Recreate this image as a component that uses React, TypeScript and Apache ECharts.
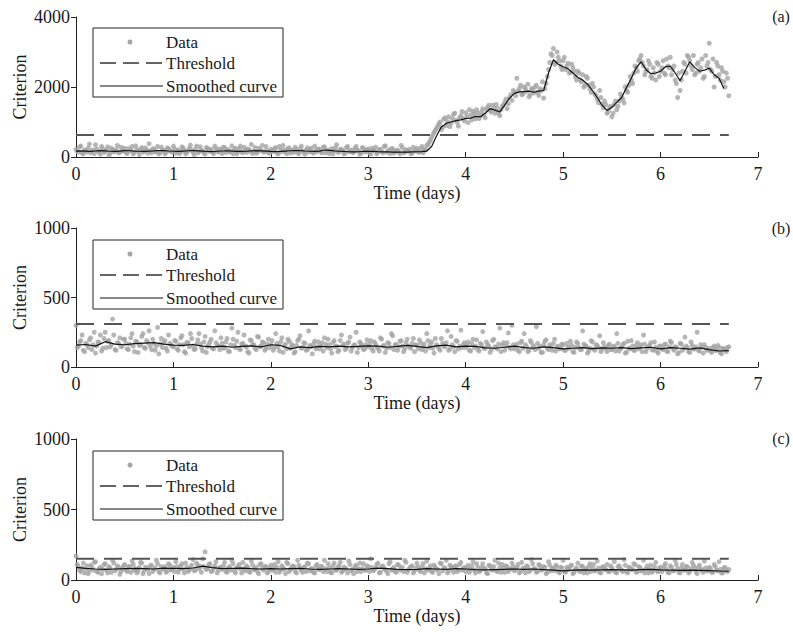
import React, { useEffect, useRef } from "react";
import * as echarts from "echarts";

// sampling interval of the raw data (days) and of the smoothed curves
const DATA_DT = 0.025;
const SMOOTH_DT_A = 0.05;
const SMOOTH_DT_BC = 0.1;

const panelLabels = ["(a)", "(b)", "(c)"];
const thresholds = [630, 310, 150];
const thresholdEnd = 6.7;
const yMax = [4000, 1000, 1000];
const yInterval = [2000, 500, 500];

// Panel (a) raw criterion values, samples at t = i*DT
const dataA = [
  220,140,310,90,180,260,120,200,350,150,80,240,170,290,110,210,160,330,130,190,
  250,100,180,300,140,220,70,270,160,200,380,120,230,150,90,280,190,130,240,170,
  310,110,200,150,260,90,180,340,140,220,120,290,170,80,250,200,130,310,160,230,
  100,270,180,140,320,200,90,240,150,280,130,210,360,170,110,250,190,140,300,120,
  220,160,270,90,200,330,150,240,110,190,280,130,230,170,80,260,200,140,310,150,
  210,120,290,170,100,240,180,350,140,220,90,270,160,200,130,300,180,110,250,150,
  230,80,190,280,140,210,120,320,170,100,240,150,200,90,260,130,180,220,110,170,
  250,140,300,210,330,
  420,560,700,820,950,780,1080,900,1150,970,1220,1050,880,1180,1100,1260,980,1200,1310,1090,
  1250,1170,1380,1120,1420,1330,1480,1250,1390,1180,1450,1560,1380,1700,1620,1850,2250,1950,1780,2000,
  1870,1720,1960,1830,2050,1760,1900,1680,2100,2500,2950,3100,2700,2850,2600,2750,2500,2680,2420,2550,
  2300,2450,2200,2350,2050,2250,1950,2100,1800,1650,1900,1500,1600,1250,1400,1150,1500,1350,1600,1700,
  1550,1900,2050,2200,2400,2550,2750,2900,2600,2450,2750,2300,2550,2200,2650,2450,2750,2350,2600,2850,
  2500,2200,1700,1900,2450,2650,2900,2750,2500,2350,2650,2450,2800,2300,2600,3250,2450,2000,2700,2350,
  2550,2150,2400,1750,
];
// Panel (a) raw values, samples at t = (i+0.5)*DT
const dataA2 = [
  160,290,110,200,140,370,180,100,230,170,300,130,190,60,250,150,210,120,280,170,
  130,240,190,90,320,160,210,140,260,110,180,230,150,300,120,200,90,260,170,140,
  230,160,100,290,180,130,250,200,70,310,150,190,120,270,160,220,100,240,140,190,
  280,130,210,170,90,250,150,310,120,190,230,160,100,270,140,200,330,150,180,110,
  170,240,120,300,150,200,100,260,180,130,220,90,310,160,200,140,250,110,190,230,
  150,280,120,200,170,90,260,140,220,180,110,300,160,130,240,190,80,270,150,200,
  120,250,170,90,220,160,300,130,200,240,110,180,150,330,120,210,170,90,280,190,
  140,230,120,200,
  350,480,640,760,880,1000,850,1120,1010,870,1100,1250,990,1120,1300,1030,1150,1350,1060,1240,
  1350,1100,1290,1200,1350,1480,1280,1400,1500,1250,1350,1480,1650,1520,1780,1900,1750,1880,2050,1800,
  1950,2080,1780,1920,2000,1850,1950,2150,1950,2300,2700,2900,2650,3000,2750,2500,2850,2600,2400,2650,
  2450,2200,2400,2150,2000,2300,2050,1850,2000,1750,1550,1700,1400,1500,1300,1450,1250,1600,1450,1800,
  1650,2000,1850,2300,2100,2600,2450,2800,2700,2350,2500,2650,2250,2400,2700,2300,2550,2400,2800,2550,
  2350,2600,2100,2400,2200,2700,2400,2850,2600,2900,2400,2700,2550,2250,2900,2700,2500,2800,2300,2600,
  2200,2450,2000,2250,
];

// Panel (a) smoothed curve
const smoothA = [
  170,175,168,160,172,180,176,165,158,170,
  182,178,170,165,160,168,175,185,180,172,
  165,160,170,178,182,175,168,160,155,165,
  172,178,170,162,158,165,175,180,176,168,
  160,155,162,170,178,185,180,172,165,160,
  168,200,190,175,165,158,150,145,150,158,
  165,160,152,148,145,142,140,138,140,145,
  150,155,170,
  300,600,860,960,1000,1040,1060,1100,1110,1160,
  1150,1250,1380,1340,1290,1480,1680,1820,1860,1870,
  1880,1850,1880,1900,2400,2780,2650,2580,2520,2400,
  2280,2200,2080,1900,1700,1480,1330,1420,1560,1700,
  1980,2250,2550,2720,2500,2380,2400,2450,2580,2600,
  2400,2180,2450,2720,2560,2450,2480,2540,2350,2250,
  1960,
];

// Panel (b) raw criterion values
const dataB = [
  300,150,190,120,170,140,210,160,100,180,230,135,250,185,145,345,125,175,210,150,
  200,130,165,240,110,180,155,220,140,190,260,125,170,150,95,205,175,135,230,160,
  145,185,120,210,160,100,175,240,150,130,195,165,115,220,145,180,135,260,155,125,
  170,140,205,110,280,155,185,130,165,230,145,100,190,160,125,215,150,175,135,200,
  160,120,240,145,180,105,165,200,135,150,110,190,225,140,170,125,155,95,185,145,
  130,175,210,140,160,100,190,150,120,230,165,135,180,115,155,250,140,170,125,160,
  145,190,115,165,135,210,150,105,175,140,225,160,120,185,150,130,200,145,170,110,
  155,195,125,165,240,140,180,100,160,135,205,150,175,120,220,145,190,130,265,160,
  140,180,115,200,150,125,170,255,135,160,105,190,145,130,280,155,120,175,140,300,
  130,165,110,185,240,145,120,175,150,290,135,105,160,195,125,145,170,115,150,135,
  160,120,145,185,110,140,170,125,260,150,100,135,180,120,155,225,130,145,110,165,
  125,150,240,115,140,170,105,135,190,120,155,130,160,230,110,145,175,120,140,100,
  150,125,165,110,185,135,145,95,170,120,215,140,105,155,130,250,115,145,160,120,
  135,105,150,120,140,95,130,110,145,
];
const dataB2 = [
  140,180,230,110,160,195,125,250,150,175,115,205,140,190,160,230,120,170,145,200,
  170,125,210,150,185,105,160,240,135,175,150,200,120,285,165,140,190,115,170,150,
  190,130,160,225,110,175,145,205,125,165,240,140,180,105,160,200,130,175,150,210,
  135,180,115,160,200,140,250,125,170,150,110,195,160,135,220,145,180,120,165,140,
  190,140,170,115,210,150,130,185,165,100,155,200,135,175,120,260,145,165,130,180,
  150,115,165,200,130,175,145,110,190,155,125,170,215,140,160,105,180,150,130,195,
  165,130,180,145,115,200,155,135,170,240,125,160,145,190,110,175,150,135,205,160,
  130,175,145,115,190,160,135,205,150,120,170,145,260,130,160,110,185,150,140,175,
  155,120,170,140,195,115,160,135,180,150,125,200,140,165,110,175,150,245,130,160,
  145,120,175,135,160,110,190,140,125,170,150,105,185,135,160,120,200,145,130,165,
  120,170,135,155,105,180,140,125,165,150,115,190,130,160,140,110,175,135,155,125,
  145,115,170,135,160,100,185,130,150,120,175,140,110,165,135,155,125,180,115,150,
  130,160,115,145,175,120,140,105,165,135,150,110,180,130,145,120,160,100,140,125,
  115,140,120,155,105,135,125,140,
];

// Panel (b) smoothed curve
const smoothB = [
  158,162,150,182,165,160,168,172,176,165,
  158,155,162,150,145,150,142,148,152,145,
  160,155,130,145,140,148,145,150,145,148,
  152,150,142,148,155,148,140,152,158,145,
  150,148,138,135,142,150,140,135,145,140,
  130,135,140,132,138,135,140,132,138,142,
  130,140,135,128,138,125,115,118,
];

// Panel (c) raw criterion values
const dataC = [
  170,95,60,120,80,45,105,70,130,55,90,75,115,50,85,140,65,100,40,80,
  110,60,95,135,70,50,90,120,65,85,45,105,75,140,60,95,80,55,115,70,
  90,130,55,100,75,120,60,85,145,70,105,95,150,200,80,115,65,100,50,90,
  75,125,55,95,140,65,85,110,50,80,100,60,135,75,90,45,115,70,95,60,
  105,80,55,130,70,90,45,115,75,100,60,140,85,55,95,120,65,80,50,110,
  75,95,140,60,85,50,120,70,100,55,90,75,135,65,45,105,80,60,115,70,
  95,150,65,85,120,55,100,75,45,130,80,60,110,70,90,140,55,85,100,65,
  120,70,90,50,135,80,60,105,75,45,115,85,140,65,95,55,100,70,125,80,
  60,105,75,130,50,90,65,115,80,45,100,70,140,60,85,110,55,95,75,120,
  65,90,50,125,75,100,60,145,80,55,110,70,95,45,130,65,85,105,60,90,
  140,55,80,100,45,75,120,60,95,70,50,115,85,65,135,55,90,75,110,60,
  85,130,50,100,70,145,60,90,75,115,55,95,65,140,80,50,105,70,125,60,
  90,75,115,55,100,65,140,80,50,110,70,95,60,125,85,45,105,75,135,65,
  90,55,110,70,130,50,85,65,75,
];
const dataC2 = [
  110,70,85,50,100,65,90,125,60,80,45,110,70,95,55,120,75,90,60,100,
  70,95,55,110,80,65,125,45,90,75,100,60,85,115,50,80,95,65,105,75,
  60,95,80,115,50,90,70,105,65,120,80,55,95,75,110,60,85,130,70,90,
  100,60,85,70,115,50,95,80,125,65,90,55,105,75,60,110,80,95,50,85,
  70,110,90,55,100,75,125,60,85,95,50,105,70,90,60,115,80,55,100,75,
  95,60,80,115,55,100,70,90,125,65,85,50,110,75,95,60,120,80,70,100,
  60,90,75,110,50,95,80,65,115,70,90,55,105,80,60,125,75,95,50,85,
  95,60,115,80,70,100,55,90,75,120,65,85,50,105,80,95,60,110,70,90,
  85,55,100,70,115,60,90,80,50,105,75,95,65,120,55,85,100,60,80,95,
  75,110,60,85,50,95,70,115,80,60,100,75,90,55,105,80,65,95,50,85,
  60,90,75,105,55,85,65,100,50,80,95,60,110,70,85,50,95,75,60,100,
  70,55,95,80,60,105,50,85,75,110,60,90,70,50,100,75,55,95,65,85,
  60,100,75,50,90,65,110,55,85,70,95,50,80,105,60,90,70,55,85,65,
  80,55,95,65,75,50,90,60,
];

// Panel (c) smoothed curve
const smoothC = [
  90,82,78,75,78,80,82,80,78,84,
  82,80,85,98,88,80,82,84,80,78,
  80,78,80,82,78,76,78,80,78,76,
  78,84,80,76,74,76,80,78,76,80,
  78,74,72,74,76,78,76,78,74,70,
  65,70,72,70,72,74,72,70,74,76,
  72,70,68,70,68,66,64,62,
];

const FONT = "Liberation Serif, DejaVu Serif, serif";
const TEXT = "#1a1a1a";
const AXIS = "#222";
const DOT = "#a4a4a4";

const grids = [
  { top: 17, height: 140 },
  { top: 228, height: 139 },
  { top: 439, height: 141 },
];

const toPairs = (vals: number[], dt: number, offset = 0) =>
  vals.map((v, i) => [Number(((i + offset) * dt).toFixed(4)), v]);

const legendText = (text: string, y: number) => ({
  type: "text",
  x: 73,
  y,
  style: { text, fontSize: 17, fontFamily: FONT, fill: TEXT, verticalAlign: "middle", align: "left" },
});

const legendGroup = (top: number) => ({
  type: "group",
  x: 93,
  y: top,
  children: [
    {
      type: "rect",
      shape: { x: 0, y: 0, width: 190, height: 69 },
      style: { fill: "#fff", stroke: AXIS, lineWidth: 1 },
    },
    { type: "circle", shape: { cx: 37, cy: 14, r: 2.5 }, style: { fill: DOT } },
    legendText("Data", 14),
    {
      type: "line",
      shape: { x1: 7, y1: 35, x2: 70, y2: 35 },
      style: { stroke: "#333", lineWidth: 1.5, lineDash: [16, 7] },
    },
    legendText("Threshold", 35),
    {
      type: "line",
      shape: { x1: 7, y1: 58, x2: 70, y2: 58 },
      style: { stroke: "#111", lineWidth: 1.2 },
    },
    legendText("Smoothed curve", 58),
  ],
});

export default function App() {
  const ref = useRef<HTMLDivElement>(null);

  useEffect(() => {
    if (!ref.current) return;
    const chart = echarts.init(ref.current, undefined, { renderer: "svg" });

    const raw = [dataA, dataB, dataC];
    const raw2 = [dataA2, dataB2, dataC2];
    const smooth = [smoothA, smoothB, smoothC];
    const smoothDt = [SMOOTH_DT_A, SMOOTH_DT_BC, SMOOTH_DT_BC];

    const series: any[] = [];
    raw.forEach((vals, k) => {
      series.push({
        type: "scatter",
        xAxisIndex: k,
        yAxisIndex: k,
        data: [...toPairs(vals, DATA_DT), ...toPairs(raw2[k], DATA_DT, 0.5)],
        symbol: "circle",
        symbolSize: 5,
        itemStyle: { color: DOT },
        silent: true,
        z: 1,
      });
      series.push({
        type: "line",
        xAxisIndex: k,
        yAxisIndex: k,
        data: [
          [0, thresholds[k]],
          [thresholdEnd, thresholds[k]],
        ],
        symbol: "none",
        lineStyle: { color: "#555", width: 2, type: [18, 10] },
        silent: true,
        z: 2,
      });
      series.push({
        type: "line",
        xAxisIndex: k,
        yAxisIndex: k,
        data: toPairs(smooth[k], smoothDt[k]),
        symbol: "none",
        lineStyle: { color: "#111", width: 1.2 },
        silent: true,
        z: 3,
      });
    });

    const option: any = {
      animation: false,
      backgroundColor: "#fff",
      grid: grids.map((g) => ({ left: 76, width: 682, top: g.top, height: g.height })),
      xAxis: grids.map((_, k) => ({
        type: "value",
        gridIndex: k,
        min: 0,
        max: 7,
        interval: 1,
        name: "Time (days)",
        nameLocation: "middle",
        nameGap: 27,
        nameMoveOverlap: false,
        nameTextStyle: { fontSize: 18, fontFamily: FONT, color: TEXT },
        axisLine: { show: true, onZero: false, lineStyle: { color: AXIS, width: 1 } },
        axisTick: { show: true, inside: true, length: 5, lineStyle: { color: AXIS } },
        axisLabel: { fontSize: 18, fontFamily: FONT, color: TEXT, margin: 8, formatter: (v: number) => String(v) },
        splitLine: { show: false },
      })),
      yAxis: grids.map((_, k) => ({
        type: "value",
        gridIndex: k,
        min: 0,
        max: yMax[k],
        interval: yInterval[k],
        name: "Criterion",
        nameLocation: "middle",
        nameGap: 47,
        nameMoveOverlap: false,
        nameTextStyle: { fontSize: 18, fontFamily: FONT, color: TEXT },
        axisLine: { show: true, lineStyle: { color: AXIS, width: 1 } },
        axisTick: { show: true, inside: false, length: 5, lineStyle: { color: AXIS } },
        axisLabel: { fontSize: 18, fontFamily: FONT, color: TEXT, margin: 6, formatter: (v: number) => String(v) },
        splitLine: { show: false },
      })),
      series,
      graphic: [
        legendGroup(28),
        legendGroup(240),
        legendGroup(451),
        ...panelLabels.map((t, k) => ({
          type: "text",
          x: 781,
          y: [16, 228, 438][k],
          style: { text: t, fontSize: 16, fontFamily: FONT, fill: TEXT, align: "center", verticalAlign: "middle" },
        })),
      ],
    };

    chart.setOption(option);
    return () => chart.dispose();
  }, []);

  return (
    <div
      ref={ref}
      style={{ position: "fixed", left: 0, top: 0, width: 793, height: 632, background: "#fff" }}
    />
  );
}
